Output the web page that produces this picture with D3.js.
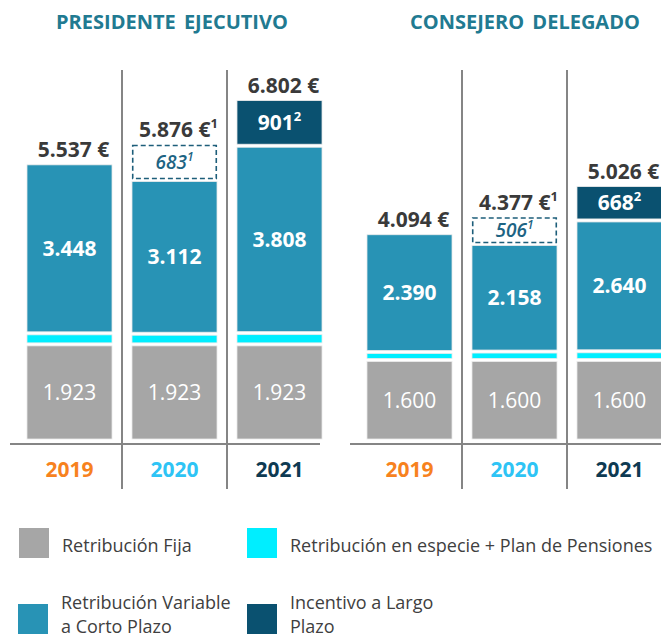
<!DOCTYPE html>
<html>
<head>
<meta charset="utf-8">
<script src="https://cdn.jsdelivr.net/npm/d3@7"></script>
<style>
  html, body { margin: 0; padding: 0; background: #ffffff; }
  svg { display: block; font-family: "Open Sans", "Noto Sans", sans-serif; }
</style>
</head>
<body>
<svg id="chart" width="661" height="639"></svg>
<script>
// Remuneración (miles de €) por cargo y año
const panels = ["PRESIDENTE EJECUTIVO", "CONSEJERO DELEGADO"];
const years = ["2019", "2020", "2021"];
const yearColors = ["#F7821E", "#2EC4F5", "#0E3A52"];

const retribucionFija = [[1923, 1923, 1923], [1600, 1600, 1600]];
const variableCortoPlazo = [[3448, 3112, 3808], [2390, 2158, 2640]];
const incentivoLargoPlazo = [[0, 0, 901], [0, 0, 668]];
const ajuste2020 = [[0, 683, 0], [0, 506, 0]];
const totales = [[5537, 5876, 6802], [4094, 4377, 5026]];
const notaTotal = [["", "1", ""], ["", "1", ""]];

const colors = {
  fija: "#A6A6A6",
  especie: "#00EEFF",
  variable: "#2893B5",
  ilp: "#0A5170"
};

const fmt = v => d3.format(",")(v).replace(/,/g, ".");

const svg = d3.select("#chart");
const y = d3.scaleLinear().domain([0, 7000]).range([439, 100]);
const h = v => y(0) - y(v);
const gap = 3;

const panelRanges = [[17, 332], [357, 672]];
const titleX = [172, 525];
const axisExtent = [[10, 320], [350, 661]];

panels.forEach((title, p) => {
  const x = d3.scaleBand().domain(years).range(panelRanges[p])
    .paddingInner(0.19).paddingOuter(0.095);
  const bw = x.bandwidth();
  const g = svg.append("g");

  g.append("text")
    .attr("x", titleX[p]).attr("y", 29)
    .attr("text-anchor", "middle")
    .attr("font-size", 20).attr("font-weight", 700)
    .attr("fill", "#217A91")
    .attr("word-spacing", 3)
    .text(title);

  // separadores verticales entre años
  for (let i = 1; i < years.length; i++) {
    const xs = (x(years[i - 1]) + bw + x(years[i])) / 2;
    g.append("line")
      .attr("x1", xs).attr("x2", xs).attr("y1", 70).attr("y2", 489)
      .attr("stroke", "#858585").attr("stroke-width", 2);
  }
  // línea base
  g.append("line")
    .attr("x1", axisExtent[p][0]).attr("x2", axisExtent[p][1])
    .attr("y1", 444).attr("y2", 444)
    .attr("stroke", "#858585").attr("stroke-width", 2);

  years.forEach((yr, i) => {
    const x0 = x(yr);
    const cx = x0 + bw / 2;
    const especie = totales[p][i] - retribucionFija[p][i] - variableCortoPlazo[p][i]
      - incentivoLargoPlazo[p][i] - ajuste2020[p][i];
    const segs = [
      { v: retribucionFija[p][i], fill: colors.fija, label: fmt(retribucionFija[p][i]), weight: 500 },
      { v: especie, fill: colors.especie },
      { v: variableCortoPlazo[p][i], fill: colors.variable, label: fmt(variableCortoPlazo[p][i]), weight: 700 },
      { v: incentivoLargoPlazo[p][i], fill: colors.ilp, label: fmt(incentivoLargoPlazo[p][i]), weight: 700, sup: "2" },
      { v: ajuste2020[p][i], dashed: true, label: String(ajuste2020[p][i]), sup: "1" }
    ];
    let top = y(0);
    let first = true;
    segs.forEach(s => {
      if (!s.v) return;
      const bottom = first ? top : top - gap;
      const hh = h(s.v);
      const ty = bottom - hh;
      first = false;
      if (s.dashed) {
        g.append("rect")
          .attr("x", x0 + 0.75).attr("y", ty).attr("width", bw - 1.5).attr("height", hh)
          .attr("fill", "none").attr("stroke", "#1D5E7A")
          .attr("stroke-width", 1.6).attr("stroke-dasharray", "5,3");
        const t = g.append("text")
          .attr("x", cx).attr("y", ty + hh / 2 + 7)
          .attr("text-anchor", "middle")
          .attr("font-size", 19).attr("font-style", "italic").attr("font-weight", 600)
          .attr("fill", "#1D6483");
        t.append("tspan").text(s.label);
        t.append("tspan").attr("font-size", 12).attr("dy", -8).text(s.sup);
      } else {
        g.append("rect")
          .attr("x", x0).attr("y", ty).attr("width", bw).attr("height", hh)
          .attr("fill", s.fill).attr("stroke", "#ececec").attr("stroke-width", 0.8);
        if (s.label) {
          const t = g.append("text")
            .attr("x", cx).attr("y", ty + hh / 2 + 7.5)
            .attr("text-anchor", "middle")
            .attr("font-size", 21).attr("font-weight", s.weight)
            .attr("fill", "#ffffff");
          t.append("tspan").text(s.label);
          if (s.sup) t.append("tspan").attr("font-size", 13).attr("dy", -9).text(s.sup);
        }
      }
      top = ty;
    });

    // total
    const tt = g.append("text")
      .attr("x", cx + 4).attr("y", top - 8)
      .attr("text-anchor", "middle")
      .attr("font-size", 21).attr("font-weight", 700)
      .attr("fill", "#3A3A3A");
    tt.append("tspan").text(fmt(totales[p][i]) + " €");
    if (notaTotal[p][i]) tt.append("tspan").attr("font-size", 13).attr("dy", -9).text(notaTotal[p][i]);

    // año
    g.append("text")
      .attr("x", cx).attr("y", 477)
      .attr("text-anchor", "middle")
      .attr("font-size", 21).attr("font-weight", 700)
      .attr("fill", yearColors[i])
      .text(yr);
  });
});

// leyenda
const legendItems = [
  { color: colors.fija, lines: ["Retribución Fija"], x: 19, y: 528 },
  { color: colors.especie, lines: ["Retribución en especie + Plan de Pensiones"], x: 247, y: 528 },
  { color: colors.variable, lines: ["Retribución Variable", "a Corto Plazo"], x: 18, y: 604 },
  { color: colors.ilp, lines: ["Incentivo a Largo", "Plazo"], x: 247, y: 604 }
];
const lg = svg.append("g");
legendItems.forEach(d => {
  lg.append("rect").attr("x", d.x).attr("y", d.y).attr("width", 30).attr("height", 30)
    .attr("fill", d.color);
  const t = lg.append("text")
    .attr("font-size", 18).attr("fill", "#404040");
  const baseY = d.lines.length === 1 ? d.y + 24 : d.y + 5;
  d.lines.forEach((ln, j) => {
    t.append("tspan").attr("x", d.x + 43).attr("y", baseY + j * 24).text(ln);
  });
});
</script>
</body>
</html>
